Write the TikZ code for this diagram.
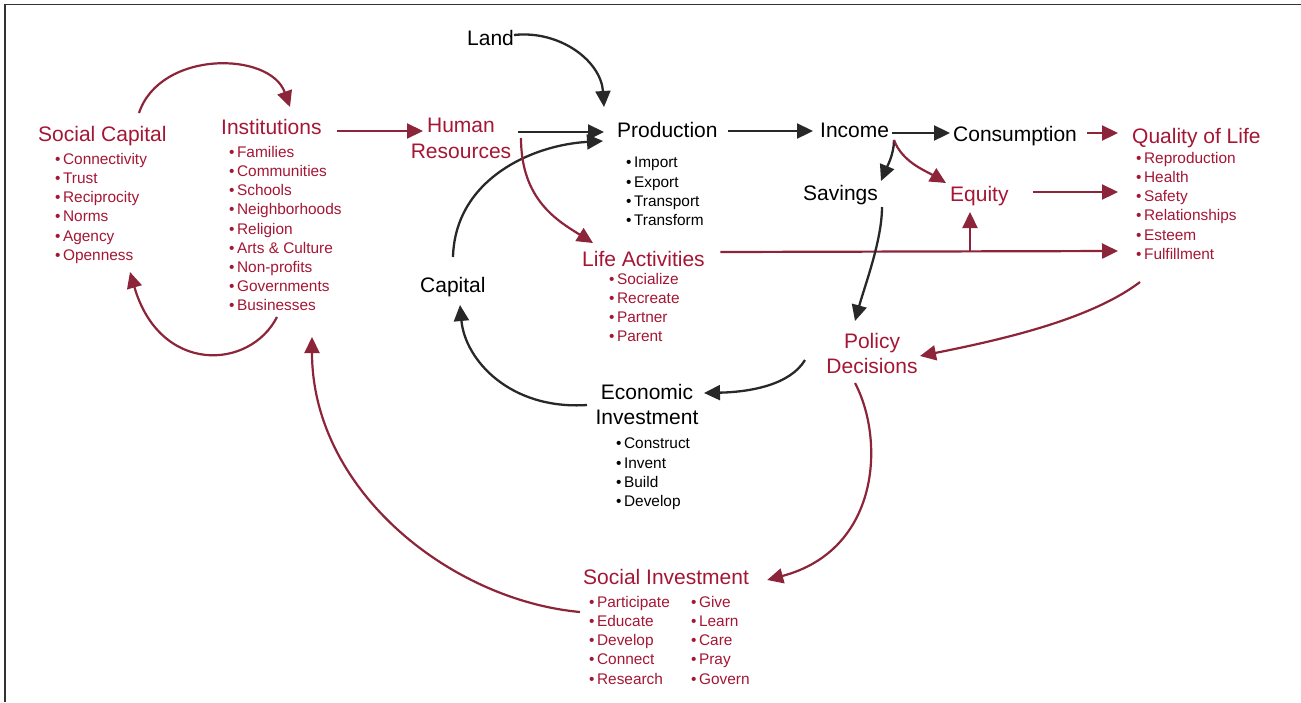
\documentclass[tikz,border=0pt]{standalone}
\usepackage{fontspec}
\setmainfont{Liberation Sans}
\usetikzlibrary{arrows.meta,calc}
\definecolor{wine}{RGB}{164,22,52}
\definecolor{wineline}{RGB}{140,36,58}
\definecolor{darkline}{RGB}{40,40,40}
\newcommand{\bul}{•\hspace{2.5pt}}
\begin{document}
\begin{tikzpicture}[x=1pt,y=-1pt,
  title/.style={inner sep=0pt, font=\fontsize{21}{25.5}\selectfont},
  red/.style={text=wine},
  items/.style={inner sep=0pt, anchor=north west, align=left, font=\fontsize{15.4}{19.2}\selectfont},
  rarr/.style={draw=wineline, line width=2.2pt, -{Triangle[length=16pt,width=15pt]}},
  karr/.style={draw=darkline, line width=2.3pt, -{Triangle[length=16pt,width=15pt]}}]
\useasboundingbox (0,0) rectangle (1301,702);
\draw[line width=1.2pt, black!80] (5,702) -- (5,4.5) -- (1301,4.5);

% titles
\node[title,red,anchor=base west] (sc) at (38,141.5) {Social Capital};
\node[title,red,anchor=base west] (inst) at (221,134) {Institutions};
\node[title,red,anchor=north,align=center] (hr) at (461,118) {Human\\Resources};
\node[title,anchor=base west] (land) at (467,45) {Land};
\node[title,anchor=base west] (prod) at (617,137) {Production};
\node[title,anchor=base west] (inc) at (820,137) {Income};
\node[title,anchor=base west] (cons) at (953,141) {Consumption};
\node[title,red,anchor=base west] (qol) at (1132,143) {Quality of Life};
\node[title,anchor=base west] (sav) at (803,200) {Savings};
\node[title,red,anchor=base west] (eq) at (950,201) {Equity};
\node[title,red,anchor=base west] (life) at (582,266) {Life Activities};
\node[title,anchor=base west] (cap) at (420,292) {Capital};
\node[title,red,anchor=north,align=center] (pol) at (872,333) {Policy\\Decisions};
\node[title,anchor=north,align=center] (econ) at (647,384) {Economic\\Investment};
\node[title,red,anchor=base west] (si) at (583,584) {Social Investment};

% item lists
\node[items,red] (scl) at (55,153) {\bul Connectivity\\\bul Trust\\\bul Reciprocity\\\bul Norms\\\bul Agency\\\bul Openness};
\node[items,red] (instl) at (229,146) {\bul Families\\\bul Communities\\\bul Schools\\\bul Neighborhoods\\\bul Religion\\\bul Arts \& Culture\\\bul Non-profits\\\bul Governments\\\bul Businesses};
\node[items] (prodl) at (626,157) {\bul Import\\\bul Export\\\bul Transport\\\bul Transform};
\node[items,red] (lifel) at (609,273) {\bul Socialize\\\bul Recreate\\\bul Partner\\\bul Parent};
\node[items,red] (qoll) at (1136,152) {\bul Reproduction\\\bul Health\\\bul Safety\\\bul Relationships\\\bul Esteem\\\bul Fulfillment};
\node[items] (econl) at (616,438) {\bul Construct\\\bul Invent\\\bul Build\\\bul Develop};
\node[items,red] (sia) at (589,596) {\bul Participate\\\bul Educate\\\bul Develop\\\bul Connect\\\bul Research};
\node[items,red] (sib) at (691,596) {\bul Give\\\bul Learn\\\bul Care\\\bul Pray\\\bul Govern};

% connectors
\draw[rarr] ($(sc.base west)+(101,-28.5)$) .. controls +(21,-63) and +(-20,-56) .. ($(inst.base west)+(69,-27)$);
\draw[rarr] ($(instl.north west)+(48,171)$) .. controls +(-27,53) and +(30,103) .. ($(scl.north west)+(75,119)$);
\draw[rarr] ($(inst.base east)+(15,-3)$) -- ($(hr.north)+(-38,13)$);
\draw[karr] ($(land.base west)+(47,-10)$) .. controls +(46,-5) and +(-3,-46) .. ($(prod.base west)+(-13,-30)$);
\draw[karr] ($(hr.north)+(57,14)$) -- ($(prod.base west)+(-13,-5)$);
\draw[karr] ($(cap.base west)+(33,-35)$) .. controls +(2,-77) and +(-72,4) .. ($(prod.base west)+(-14,4)$);
\draw[rarr] ($(hr.north)+(60,20)$) .. controls +(0,62) and +(-35,-22) .. ($(life.base west)+(11,-23)$);
\draw[karr] ($(prod.base east)+(10,-6)$) -- ($(inc.base west)+(-7,-6)$);
\draw[karr] ($(inc.base east)+(3,-4)$) -- ($(cons.base west)+(-3,-8)$);
\draw[rarr] ($(cons.base east)+(10,-8)$) -- ($(qol.base west)+(-14,-10)$);
\draw[karr] ($(inc.base west)+(74,3)$) .. controls +(0,15) and +(5,-12) .. ($(sav.base west)+(78,-19)$);
\draw[rarr] ($(inc.base west)+(74,3)$) .. controls +(8,22) and +(-20,-12) .. ($(eq.base west)+(-4,-18)$);
\draw[rarr] ($(eq.base east)+(24,-9)$) -- ($(qoll.north west)+(-18,40)$);
\coordinate (lq) at ($(life.base east)+(15.5,-14)$);
\draw[rarr] (lq) -- ($(qoll.north west)+(-18,99)$);
\coordinate (eqx) at ($(eq.base west)+(20,0)$);
\coordinate (br) at (eqx |- lq);
\draw[rarr] (br) -- ($(eq.base west)+(20,11)$);
\draw[karr] ($(sav.base west)+(79,7)$) .. controls +(0,33) and +(10,-36) .. ($(pol.north)+(-17,-12)$);
\draw[rarr] ($(qoll.north west)+(4,130)$) .. controls +(-50,38) and +(80,-16) .. ($(pol.north)+(48,23)$);
\draw[karr] ($(pol.north)+(-67,27)$) .. controls +(-15,25) and +(46,-1) .. ($(econ.north)+(57,9)$);
\draw[karr] ($(econ.north)+(-60,21)$) .. controls +(-77,5) and +(5,55) .. ($(cap.base west)+(40,13)$);
\draw[rarr] ($(pol.north)+(-17,50)$) .. controls +(30,57) and +(113,-30) .. ($(si.base east)+(18,-4)$);
\draw[rarr] ($(sia.north west)+(-9,16)$) .. controls +(-130,-12) and +(0,153) .. ($(instl.north west)+(83,191)$);
\end{tikzpicture}
\end{document}
